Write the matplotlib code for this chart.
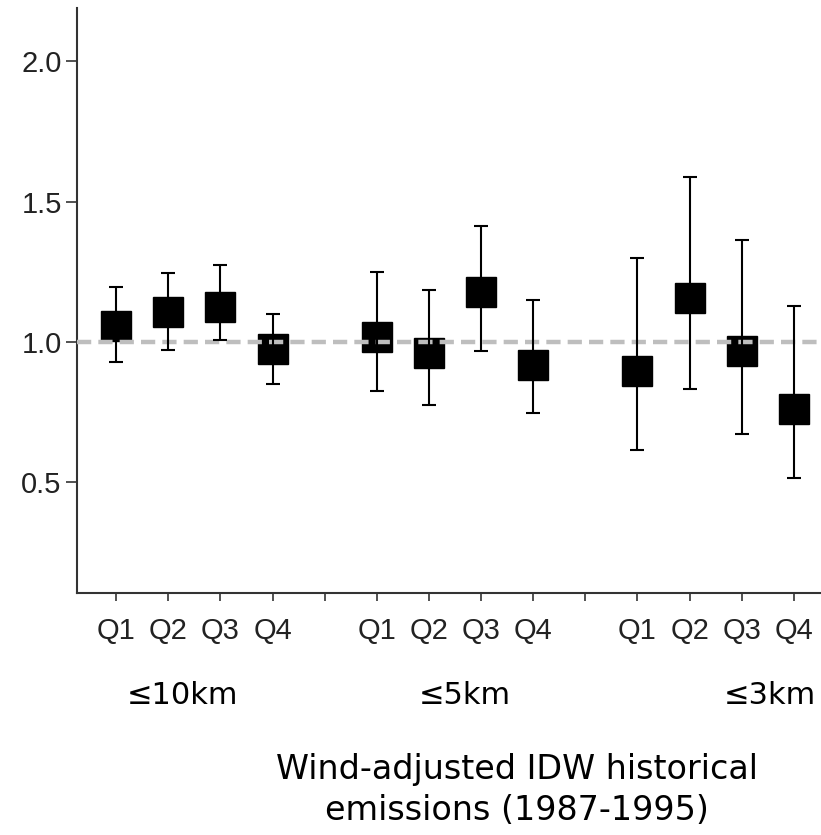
import numpy as np
import matplotlib.pyplot as plt

plt.rcParams['font.family'] = ['Liberation Sans', 'DejaVu Sans']

# distance buffers and quartiles
groups = ['≤10km', '≤5km', '≤3km']
quartiles = ['Q1', 'Q2', 'Q3', 'Q4']

# estimates and 95% CI per group (Q1..Q4)
est = [1.055, 1.106, 1.124, 0.976,
       1.019, 0.961, 1.177, 0.918,
       0.895, 1.158, 0.968, 0.760]
lower = [0.930, 0.972, 1.007, 0.851,
         0.825, 0.774, 0.968, 0.745,
         0.615, 0.832, 0.673, 0.514]
upper = [1.197, 1.245, 1.275, 1.101,
         1.249, 1.185, 1.414, 1.149,
         1.299, 1.589, 1.364, 1.127]

est = np.array(est)
lower = np.array(lower)
upper = np.array(upper)

# x positions: 4 quartiles per group, one empty slot between groups
x = np.array([1 + 5 * g + q for g in range(len(groups)) for q in range(len(quartiles))])
tick_pos = np.arange(1, 15)
tick_lab = []
for g in range(len(groups)):
    tick_lab += quartiles
    if g < len(groups) - 1:
        tick_lab.append('')

fig = plt.figure(figsize=(8.21, 8.35), dpi=100)
ax = fig.add_axes([0.0938, 0.2898, 0.9062, 0.7006])

# squares, then reference line, then error bars on top
ax.plot(x, est, 's', color='black', markersize=21, mec='black', mew=1, zorder=2)
ax.axhline(1.0, color='#bebebe', linewidth=3.2, dashes=(3.2, 1.6), zorder=3)
ax.errorbar(x, est, yerr=[est - lower, upper - est], fmt='none', ecolor='black',
            elinewidth=1.5, capsize=5, capthick=1.5, zorder=4)

ax.set_xlim(0.25, 14.52)
ax.set_ylim(0.105, 2.19)
ax.set_yticks([0.5, 1.0, 1.5, 2.0])
ax.set_yticklabels(['0.5', '1.0', '1.5', '2.0'])
ax.set_xticks(tick_pos)
ax.set_xticklabels(tick_lab)

for s in ['top', 'right']:
    ax.spines[s].set_visible(False)
for s in ['left', 'bottom']:
    ax.spines[s].set_color('#333333')
    ax.spines[s].set_linewidth(1.5)

ax.tick_params(axis='y', length=8, width=1.2, color='#333333', labelsize=21,
               labelcolor='#222222', pad=3)
ax.tick_params(axis='x', length=6, width=1.2, color='#333333', labelsize=21,
               labelcolor='#222222', pad=11)

# group labels under the quartile ticks
group_x = [2.27, 7.69, 13.54]
for gx, name in zip(group_x, groups):
    ax.text(gx, -0.176, name, transform=ax.get_xaxis_transform(), ha='center',
            va='center', fontsize=22, color='black', family='DejaVu Sans')

fig.text(0.630, 0.054, 'Wind-adjusted IDW historical\nemissions (1987-1995)',
         ha='center', va='center', fontsize=24, color='black', linespacing=1.3,
         family='DejaVu Sans')

fig.savefig('out.png', dpi=100)
